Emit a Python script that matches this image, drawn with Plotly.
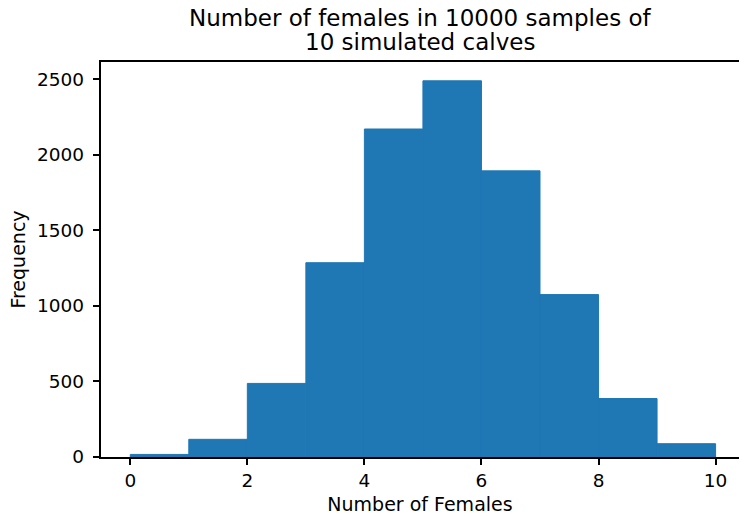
"""Histogram of simulated female calves counts."""

import plotly.graph_objects as go

bin_left = [0, 1, 2, 3, 4, 5, 6, 7, 8, 9]
bin_width = [1, 1, 1, 1, 1, 1, 1, 1, 1, 1]
frequency = [17, 117, 487, 1286, 2171, 2490, 1894, 1075, 387, 88]

x_ticks = [0, 2, 4, 6, 8, 10]
y_ticks = [0, 500, 1000, 1500, 2000, 2500]

title_lines = ["Number of females in 10000 samples of", "10 simulated calves"]

font = "DejaVu Sans"
blue = "#1f77b4"

fig = go.Figure(
    go.Bar(
        x=bin_left,
        y=frequency,
        width=bin_width,
        offset=0,
        marker_color=blue,
        marker_line=dict(color=blue, width=1),
    )
)

axis_style = dict(
    showline=True,
    linecolor="black",
    linewidth=1.5,
    ticks="outside",
    ticklen=6.5,
    tickwidth=1.5,
    tickcolor="black",
    showgrid=False,
    zeroline=False,
    tickfont=dict(family=font, size=18.5, color="black"),
)

for line, shift in zip(title_lines, [44.5, 20.5]):
    fig.add_annotation(
        text=line,
        x=0.5,
        xref="paper",
        xanchor="center",
        y=1,
        yref="paper",
        yanchor="middle",
        yshift=shift,
        showarrow=False,
        font=dict(family=font, size=23, color="black"),
    )

# the reference is cropped on the right: top spine runs off the edge, no right spine
fig.update_layout(
    width=739,
    height=516,
    margin=dict(l=101, r=0, t=62, b=59),
    plot_bgcolor="white",
    paper_bgcolor="white",
    showlegend=False,
    font=dict(family=font, color="black"),
    xaxis=dict(
        range=[-0.5, 10.40],
        tickvals=x_ticks,
        mirror=True,
        title=dict(text="Number of Females", font=dict(family=font, size=19), standoff=7),
        **axis_style,
    ),
    yaxis=dict(
        range=[0, 2614.5],
        tickvals=y_ticks,
        mirror=False,
        ticklabelstandoff=5,
        title=dict(text="Frequency", font=dict(family=font, size=19), standoff=6),
        **axis_style,
    ),
)

# drop the default page margin so the figure fills the window exactly
fig.write_html(
    "out.html",
    config={"displayModeBar": False},
    post_script="document.body.style.margin = '0';",
)
